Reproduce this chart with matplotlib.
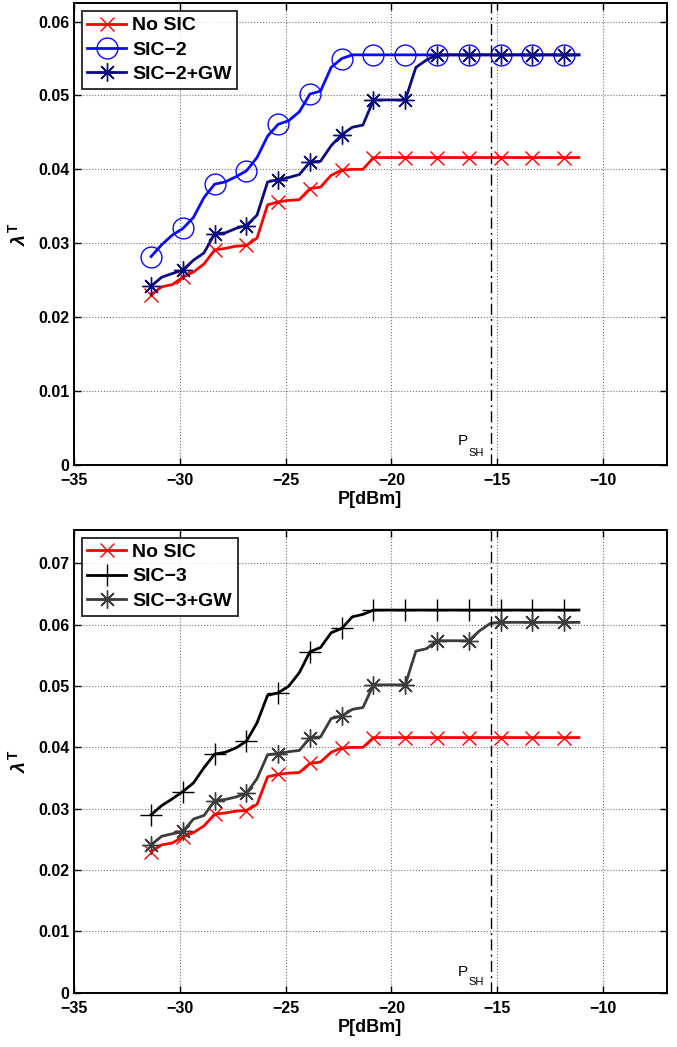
import numpy as np
import matplotlib
matplotlib.use("Agg")
import matplotlib.pyplot as plt

plt.rcParams['font.family'] = ['Liberation Sans', 'DejaVu Sans']
plt.rcParams['font.weight'] = 'bold'
plt.rcParams['mathtext.fontset'] = 'custom'
plt.rcParams['mathtext.rm'] = 'Liberation Sans:normal'
plt.rcParams['mathtext.it'] = 'Liberation Sans:italic'
plt.rcParams['mathtext.bf'] = 'Liberation Sans:bold'

# transmit power grid [dBm]
p_dbm = [-31.35, -30.85, -30.35, -29.85, -29.35, -28.85, -28.35, -27.85, -27.35, -26.85,
         -26.35, -25.85, -25.35, -24.85, -24.35, -23.85, -23.35, -22.85, -22.35, -21.85,
         -21.35, -20.85, -20.35, -19.85, -19.35, -18.85, -18.35, -17.85, -17.35, -16.85,
         -16.35, -15.85, -15.35, -14.85, -14.35, -13.85, -13.35, -12.85, -12.35, -11.85,
         -11.35, -11.15]

no_sic = [0.0230, 0.0241, 0.0244, 0.0254, 0.0261, 0.0272, 0.0291, 0.0293, 0.0296, 0.0297,
          0.0307, 0.0352, 0.0356, 0.0358, 0.0359, 0.0374, 0.0376, 0.0392, 0.0399, 0.0400,
          0.0400, 0.0416, 0.0416, 0.0416, 0.0416, 0.0416, 0.0416, 0.0416, 0.0416, 0.0416,
          0.0416, 0.0416, 0.0416, 0.0416, 0.0416, 0.0416, 0.0416, 0.0416, 0.0416, 0.0416,
          0.0416, 0.0416]

sic2 = [0.0282, 0.0298, 0.0311, 0.0320, 0.0335, 0.0362, 0.0380, 0.0383, 0.0390, 0.0398,
        0.0416, 0.0445, 0.0461, 0.0466, 0.0478, 0.0502, 0.0506, 0.0538, 0.0550, 0.0555,
        0.0555, 0.0555, 0.0555, 0.0555, 0.0555, 0.0555, 0.0555, 0.0555, 0.0555, 0.0555,
        0.0555, 0.0555, 0.0555, 0.0555, 0.0555, 0.0555, 0.0555, 0.0555, 0.0555, 0.0555,
        0.0555, 0.0555]

sic2_gw = [0.0242, 0.0254, 0.0259, 0.0264, 0.0277, 0.0287, 0.0313, 0.0314, 0.0320, 0.0324,
           0.0338, 0.0383, 0.0386, 0.0389, 0.0393, 0.0410, 0.0411, 0.0432, 0.0447, 0.0457,
           0.0460, 0.0494, 0.0494, 0.0494, 0.0494, 0.0538, 0.0548, 0.0555, 0.0555, 0.0555,
           0.0555, 0.0555, 0.0555, 0.0555, 0.0555, 0.0555, 0.0555, 0.0555, 0.0555, 0.0555,
           0.0555, 0.0555]

sic3 = [0.0290, 0.0305, 0.0316, 0.0328, 0.0342, 0.0367, 0.0389, 0.0392, 0.0399, 0.0410,
        0.0440, 0.0485, 0.0489, 0.0500, 0.0522, 0.0556, 0.0563, 0.0587, 0.0594, 0.0613,
        0.0617, 0.0624, 0.0624, 0.0624, 0.0624, 0.0624, 0.0624, 0.0624, 0.0624, 0.0624,
        0.0624, 0.0624, 0.0624, 0.0624, 0.0624, 0.0624, 0.0624, 0.0624, 0.0624, 0.0624,
        0.0624, 0.0624]

sic3_gw = [0.0241, 0.0255, 0.0259, 0.0263, 0.0283, 0.0289, 0.0313, 0.0315, 0.0319, 0.0325,
           0.0349, 0.0388, 0.0390, 0.0393, 0.0395, 0.0416, 0.0417, 0.0447, 0.0451, 0.0462,
           0.0465, 0.0502, 0.0502, 0.0502, 0.0502, 0.0557, 0.0561, 0.0574, 0.0574, 0.0574,
           0.0574, 0.0590, 0.0602, 0.0604, 0.0604, 0.0604, 0.0604, 0.0604, 0.0604, 0.0604,
           0.0604, 0.0604]

p_sh = -15.3
star = (8, 2, 0)

fig = plt.figure(figsize=(6.77, 10.47), dpi=100)
ax1 = fig.add_axes([0.109, 0.556, 0.876, 0.441])
ax2 = fig.add_axes([0.109, 0.052, 0.876, 0.442])

panels = [
    (ax1, [(no_sic, 'No SIC', '#ff0000', 'x', 10),
           (sic2, 'SIC\u22122', '#0a0aff', 'o', 15),
           (sic2_gw, 'SIC\u22122+GW', '#0c0c80', star, 13)],
     0.0625, [0, 0.01, 0.02, 0.03, 0.04, 0.05, 0.06]),
    (ax2, [(no_sic, 'No SIC', '#ff0000', 'x', 10),
           (sic3, 'SIC\u22123', '#000000', '+', 16),
           (sic3_gw, 'SIC\u22123+GW', '#3c3c3c', star, 13)],
     0.0755, [0, 0.01, 0.02, 0.03, 0.04, 0.05, 0.06, 0.07]),
]

for ax, series, ytop, yt in panels:
    for y, lab, col, mk, ms in series:
        ax.plot(p_dbm, y, color=col, lw=2, marker=mk, markersize=ms,
                markerfacecolor='none', markeredgecolor=col, markeredgewidth=1.0,
                markevery=(0, 3), label=lab)
    ax.axvline(p_sh, color='k', lw=1, linestyle=(0, (8, 3, 1.5, 3)))
    ax.text(-16.85, 0.0027, 'P', fontsize=11, fontweight='normal')
    ax.text(-16.35, 0.0012, 'SH', fontsize=8, fontweight='normal')
    ax.set_xlim(-35, -7)
    ax.set_ylim(0, ytop)
    ax.set_xticks([-35, -30, -25, -20, -15, -10])
    ax.set_xticklabels(['\u221235', '\u221230', '\u221225', '\u221220', '\u221215', '\u221210'])
    ax.set_yticks(yt)
    ax.set_yticklabels(['0'] + ['%.2f' % v for v in yt[1:]])
    ax.grid(True, linestyle=':', color='0.45', lw=0.8)
    ax.tick_params(direction='in', length=5, width=1, top=True, right=True,
                   labelsize=11.5, pad=3)
    ax.tick_params(axis='x', pad=6)
    for s in ax.spines.values():
        s.set_linewidth(1.4)
    ax.set_xlabel('P[dBm]', fontsize=13, fontweight='bold', labelpad=2)
    ax.set_ylabel(r'$\lambda^{\mathbf{T}}$', fontsize=14, labelpad=7)
    leg = ax.legend(loc='upper left', fontsize=14, frameon=True, fancybox=False,
                    edgecolor='k', handlelength=2.0, handletextpad=0.3,
                    borderpad=0.3, labelspacing=0.35, borderaxespad=0.4)
    leg.get_frame().set_linewidth(1.4)
    for t in leg.get_texts():
        t.set_fontweight('bold')

fig.savefig('out.png', dpi=100)
